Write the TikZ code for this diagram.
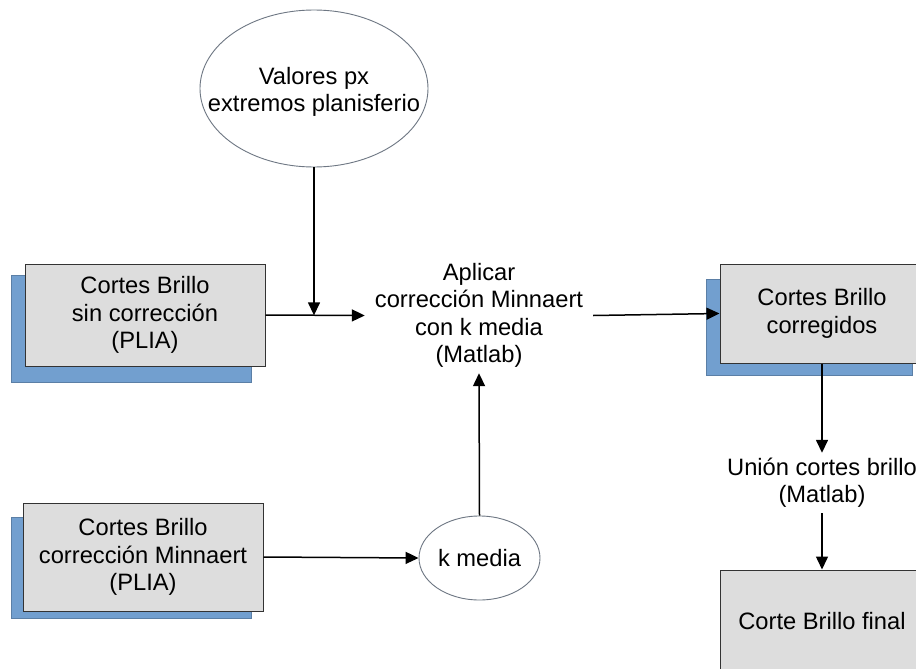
\documentclass[tikz,border=0pt]{standalone}
\usepackage{fontspec}
\setmainfont{Liberation Sans}
\usetikzlibrary{arrows.meta,shapes.geometric}
\definecolor{boxgray}{HTML}{DDDDDD}
\definecolor{shadowblue}{HTML}{729FCF}
\definecolor{edgegray}{HTML}{333333}
\definecolor{ellgray}{HTML}{6E7783}
\tikzset{
  txt/.style={font=\fontsize{23.7}{27.3}\selectfont, align=center, text=black, inner sep=0pt},
  graybox/.style={txt, draw=edgegray, line width=1pt, fill=boxgray},
  bluebox/.style={fill=shadowblue, draw=shadowblue!80!black, line width=0.4pt, inner sep=0pt},
  oval/.style={ellipse, draw=ellgray, line width=0.9pt, fill=white, inner sep=0pt},
  conn/.style={line width=1.5pt, -{Triangle[length=13pt,width=12pt]}}
}
\begin{document}
\begin{tikzpicture}[x=1pt,y=-1pt]
\useasboundingbox (0,0) rectangle (916,669);
\clip (0,0) rectangle (916,669);
\fill[white] (0,0) rectangle (916,669);
% box 1
\node[bluebox, minimum width=240pt, minimum height=107pt] (b1s) at (131,328.5) {};
\node[graybox, minimum width=240pt, minimum height=102pt] (b1) at (145,315) {Cortes Brillo\\sin corrección\\(PLIA)};
% box 2
\node[bluebox, minimum width=240pt, minimum height=101pt] (b2s) at (131,567.5) {};
\node[graybox, minimum width=240pt, minimum height=108pt] (b2) at (143,557) {Cortes Brillo\\corrección Minnaert\\(PLIA)};
% box 3
\node[bluebox, minimum width=206pt, minimum height=96pt] (b3s) at (809,327) {};
\node[graybox, minimum width=204pt, minimum height=99pt] (b3) at (822,313.5) {Cortes Brillo\\corregidos};
% final box
\node[graybox, minimum width=204pt, minimum height=102pt] (fin) at (822,621) {Corte Brillo final};
% ellipses
\node[oval, minimum width=228pt, minimum height=157pt] (val) at (314,88.5) {};
\node[txt] (valt) at (314,92) {Valores px\\extremos planisferio};
\node[oval, minimum width=121pt, minimum height=84pt] (km) at (479.5,558) {};
\node[txt] (kmt) at (479.5,558) {k media};
% text nodes
\node[txt, minimum width=228pt, minimum height=115pt] (apl) at (479,315.5) {Aplicar\\corrección Minnaert\\con k media\\(Matlab)};
\node[txt, minimum width=190pt, minimum height=60pt] (un) at (822,483) {Unión cortes brillo\\(Matlab)};
\coordinate (j) at (314,315.3);
% connectors
\draw[conn] (b1.east) -- (apl.west);
\draw[conn] (val.south) -- (j);
\draw[conn] (apl.east) -- (b3.west);
\draw[conn] (b3.south) -- (un.north);
\draw[conn] (un.south) -- (fin.north);
\draw[conn] (b2.east) -- (km.west);
\draw[conn] (km.north) -- (apl.south);
\end{tikzpicture}
\end{document}
